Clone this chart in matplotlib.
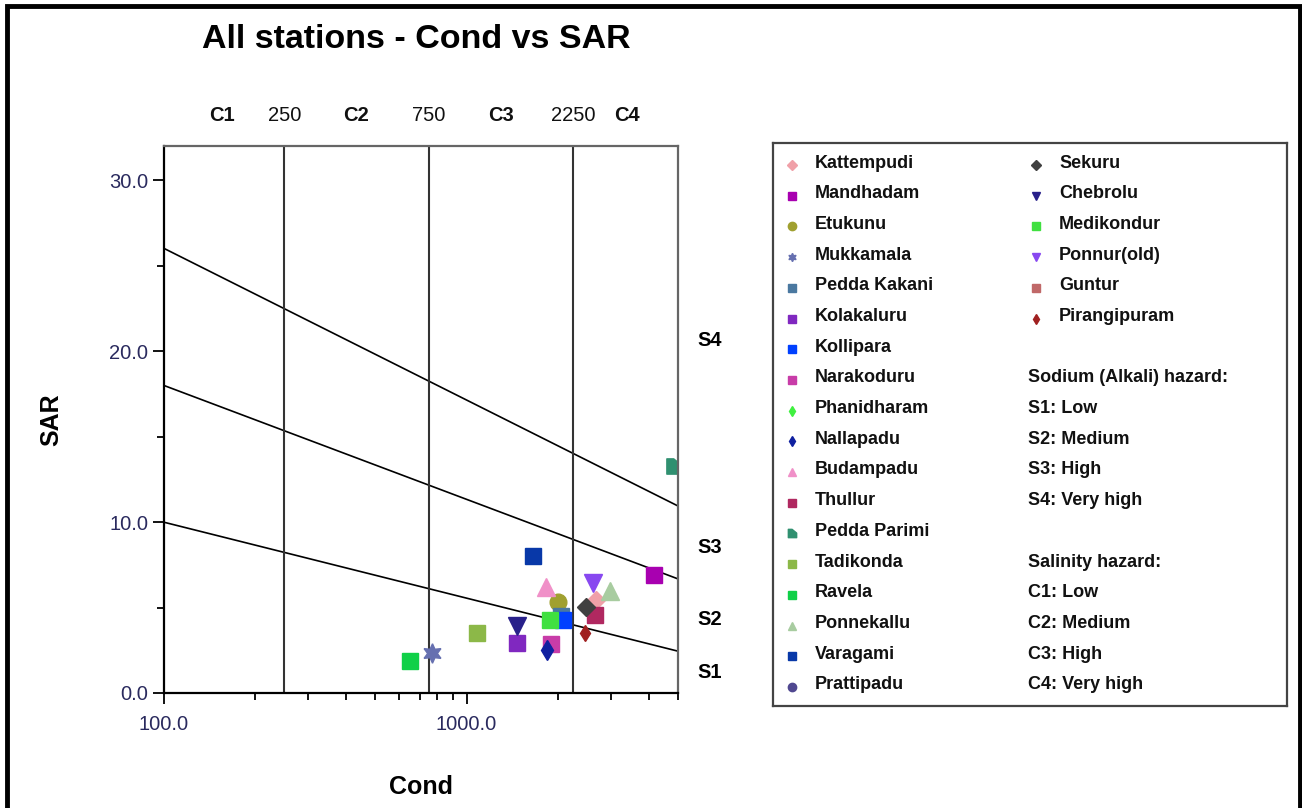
import numpy as np
import matplotlib
matplotlib.use("Agg")
import matplotlib.pyplot as plt
from matplotlib.path import Path
from matplotlib.patches import Rectangle
import matplotlib.transforms as mtransforms

plt.rcParams['font.family'] = ['Liberation Sans', 'DejaVu Sans']

# 観測点データ (電気伝導度 Cond, SAR)
stations = ["Kattempudi", "Mandhadam", "Etukunu", "Mukkamala", "Pedda Kakani",
            "Kolakaluru", "Kollipara", "Narakoduru", "Phanidharam", "Nallapadu",
            "Budampadu", "Thullur", "Pedda Parimi", "Tadikonda", "Ravela",
            "Ponnekallu", "Varagami", "Prattipadu", "Sekuru", "Chebrolu",
            "Medikondur", "Ponnur(old)", "Guntur", "Pirangipuram"]
cond = [2670, 4170, 2000, 770, 2045,
        1465, 2090, 1905, np.nan, 1850,
        1830, 2650, 4850, 1080, 652,
        2980, 1660, np.nan, 2480, 1470,
        1885, 2620, np.nan, 2460]
sar = [5.44, 6.9, 5.34, 2.32, 4.5,
       2.94, 4.27, 2.85, np.nan, 2.51,
       6.2, 4.56, 13.3, 3.49, 1.89,
       5.96, 8.03, np.nan, 5.05, 3.92,
       4.27, 6.41, np.nan, 3.49]

# 色とマーカー
half_sq = Path([(-1, -1), (1, -1), (1, 0.1), (-0.1, 1), (-1, 1), (-1, -1)],
               [1, 2, 2, 2, 2, 79])
colors = ["#F0A0A8", "#A800B0", "#A0A030", "#6670B0", "#4A78A0",
          "#8028C0", "#0040FF", "#C83CA8", "#40F040", "#1020A0",
          "#F090C8", "#B02860", "#309070", "#8CB848", "#10D048",
          "#A8CCA0", "#0838A8", "#504890", "#404040", "#28208A",
          "#40E040", "#8848F0", "#C06868", "#A02020"]
markers = ["D", "s", "o", (6, 1, 0), "s",
           "s", "s", "s", "d", "d",
           "^", "s", half_sq, "s", "s",
           "^", "s", "o", "D", "v",
           "s", "v", "s", "d"]
sizes = [9, 12, 12, 14, 12,
         12, 12, 12, 10, 10,
         13, 12, 11, 12, 12,
         13, 12, 12, 9, 13,
         12, 13, 12, 8]

# 塩害区分の境界
sal_bounds = [250, 750, 2250]
top_labels = [("C1", 155, True), ("250", 250, False), ("C2", 430, True),
              ("750", 750, False), ("C3", 1300, True), ("2250", 2250, False),
              ("C4", 3390, True)]
s_labels = [("S4", 20.6), ("S3", 8.5), ("S2", 4.3), ("S1", 1.2)]
# SAR = a - b*log10(EC)
sodium_lines = [(18.87, 4.44), (31.31, 6.66), (43.75, 8.87)]

tick_color = "#2a2a5e"

fig = plt.figure(figsize=(13.02, 8.08), dpi=100)
ax = fig.add_axes([164 / 1302, 1 - 693 / 808, 514 / 1302, 547 / 808])
ax.set_xscale("log")
ax.set_xlim(100, 5000)
ax.set_ylim(0, 32)

ec = np.array([100, 5000])
for a, b in sodium_lines:
    ax.plot(ec, a - b * np.log10(ec), color="black", lw=1.2)
for v in sal_bounds:
    ax.axvline(v, color="#333333", lw=1.5)

for i in range(len(stations)):
    ax.plot(cond[i], sar[i], marker=markers[i], color=colors[i],
            markersize=sizes[i], linestyle="none")

ax.set_yticks([0, 10, 20, 30])
ax.set_yticklabels(["0.0", "10.0", "20.0", "30.0"])
ax.set_yticks([5, 15, 25], minor=True)
ax.set_xticks([100, 1000])
ax.set_xticklabels(["100.0", "1000.0"])
ax.set_xticks([200, 300, 400, 500, 600, 700, 800, 900, 2000, 3000, 4000, 5000], minor=True)
ax.xaxis.set_minor_formatter(matplotlib.ticker.NullFormatter())
ax.tick_params(which="major", length=8, width=1.3, labelsize=14.5, labelcolor=tick_color)
ax.tick_params(which="minor", length=5, width=1.3)
ax.tick_params(axis="x", pad=8)
for s in ["left", "bottom"]:
    ax.spines[s].set_linewidth(1.6)
for s in ["top", "right"]:
    ax.spines[s].set_color("#666666")
    ax.spines[s].set_linewidth(1.6)

trans = mtransforms.blended_transform_factory(ax.transData, ax.transAxes)
for txt, xv, bold in top_labels:
    ax.text(xv, 1.055, txt, transform=trans, ha="center", va="center",
            fontsize=14.5, fontweight="bold" if bold else "normal", color="#111111")
trans2 = mtransforms.blended_transform_factory(ax.transAxes, ax.transData)
for txt, yv in s_labels:
    ax.text(1.062, yv, txt, transform=trans2, ha="center", va="center",
            fontsize=14.5, fontweight="bold")

ax.set_xlabel("Cond", fontsize=18, fontweight="bold", labelpad=29)
ax.set_ylabel("SAR", fontsize=18, fontweight="bold", labelpad=33)
fig.text(416 / 1302, 1 - 40 / 808, "All stations - Cond vs SAR", ha="center",
         va="center", fontsize=24.5, fontweight="bold")

# 凡例
lg = fig.add_axes([773 / 1302, 1 - 706 / 808, 514 / 1302, 563 / 808])
lg.set_xlim(0, 514)
lg.set_ylim(563, 0)
lg.set_xticks([])
lg.set_yticks([])
for s in lg.spines.values():
    s.set_color("#444444")
    s.set_linewidth(1.6)

row0, dy = 20, 30.7
for i, name in enumerate(stations):
    col, row = (0, i) if i < 18 else (1, i - 18)
    mx = 19 if col == 0 else 263
    ms = 5 if markers[i] in ("D", "d") else 6
    lg.plot(mx, row0 + row * dy + 2, marker=markers[i], color=colors[i],
            markersize=ms, linestyle="none")
    lg.text(mx + 23, row0 + row * dy, name, ha="left", va="center",
            fontsize=13, fontweight="bold", color="#111111")

notes = [(7, "Sodium (Alkali) hazard:"), (8, "S1: Low"), (9, "S2: Medium"),
         (10, "S3: High"), (11, "S4: Very high"), (13, "Salinity hazard:"),
         (14, "C1: Low"), (15, "C2: Medium"), (16, "C3: High"), (17, "C4: Very high")]
for row, txt in notes:
    lg.text(255, row0 + row * dy, txt, ha="left", va="center",
            fontsize=13, fontweight="bold", color="#111111")

# 外枠
fig.patches.append(Rectangle((7 / 1302, -0.01), 1293 / 1302, 1 - 6 / 808 + 0.01,
                             transform=fig.transFigure, fill=False,
                             edgecolor="black", lw=3.5))

fig.savefig("out.png", dpi=100)
